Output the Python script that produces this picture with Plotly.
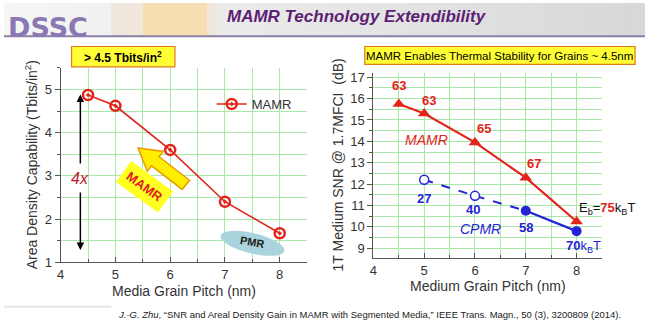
import math
import plotly.graph_objects as go

W, H = 645, 335

# ---------------- data ----------------
left_pitch = [4.5, 5, 6, 7, 8]
left_density = [4.87, 4.62, 3.60, 2.40, 1.67]

mamr_pitch = [4.5, 5, 6, 7, 8]
mamr_snr = [15.75, 15.30, 13.95, 12.30, 10.25]
mamr_eb = ["63", "63", "65", "67", "75"]

cpmr_dash_pitch = [5, 6, 7]
cpmr_dash_snr = [12.20, 11.45, 10.75]
cpmr_solid_pitch = [7, 8]
cpmr_solid_snr = [10.75, 9.80]
cpmr_eb = ["27", "40", "58", "70"]
cpmr_pitch_all = [5, 6, 7, 8]
cpmr_snr_all = [12.20, 11.45, 10.75, 9.80]

# ---------------- styles ----------------
RED = "#e3241b"
BLUE = "#2424d6"
GRID = "#a8e8a8"
AX = "#555555"
TXT = "#333333"
FONT = "Liberation Sans, Arial, sans-serif"


def PX(x):
    return x / W


def PY(y):
    return 1 - y / H


fig = go.Figure()

# left chart
fig.add_trace(go.Scatter(
    x=left_pitch, y=left_density, mode="lines+markers", name="MAMR",
    line=dict(color=RED, width=1.6),
    marker=dict(symbol="circle-open-dot", size=10, color=RED, line=dict(width=2.5, color=RED)),
    xaxis="x", yaxis="y", showlegend=True))

# right chart
fig.add_trace(go.Scatter(
    x=mamr_pitch, y=mamr_snr, mode="lines+markers", showlegend=False,
    line=dict(color=RED, width=2.2),
    marker=dict(symbol="triangle-up", size=11, color=RED),
    xaxis="x2", yaxis="y2"))
fig.add_trace(go.Scatter(
    x=cpmr_dash_pitch, y=cpmr_dash_snr, mode="lines", showlegend=False,
    line=dict(color=BLUE, width=2, dash="dash"),
    xaxis="x2", yaxis="y2"))
fig.add_trace(go.Scatter(
    x=cpmr_solid_pitch, y=cpmr_solid_snr, mode="lines", showlegend=False,
    line=dict(color=BLUE, width=2.2),
    xaxis="x2", yaxis="y2"))
fig.add_trace(go.Scatter(
    x=cpmr_dash_pitch[:2], y=cpmr_dash_snr[:2], mode="markers", showlegend=False,
    marker=dict(symbol="circle", size=9, color="white", line=dict(width=1.5, color=BLUE)),
    xaxis="x2", yaxis="y2"))
fig.add_trace(go.Scatter(
    x=cpmr_solid_pitch, y=cpmr_solid_snr, mode="markers", showlegend=False,
    marker=dict(symbol="circle", size=10, color=BLUE),
    xaxis="x2", yaxis="y2"))

shapes = []
annotations = []

# ---------------- header ----------------
n = 60
for i in range(n):
    x0 = W * i / n
    x1 = W * (i + 1) / n + 0.5
    t = i / (n - 1)
    v = int(246 - 30 * t)
    col = f"rgb({v},{v},{v})"
    if 105 < x0 < 215:
        col = "rgb(246,222,178)" if 135 < x0 < 200 else "rgb(240,232,220)"
    shapes.append(dict(type="rect", xref="paper", yref="paper", x0=PX(x0), x1=PX(x1),
                       y0=PY(34), y1=1, fillcolor=col, line=dict(width=0), layer="below"))
shapes.append(dict(type="line", xref="paper", yref="paper", x0=0, x1=1, y0=PY(34.5), y1=PY(34.5),
                   line=dict(color="#8c7fa4", width=2)))
annotations.append(dict(xref="paper", yref="paper", x=PX(2), y=PY(25), xanchor="left", yanchor="middle",
                        text="<b>DSSC</b>", showarrow=False,
                        font=dict(family="DejaVu Sans, sans-serif", size=27, color="#8a78b4")))
annotations.append(dict(xref="paper", yref="paper", x=PX(355), y=PY(14), xanchor="center", yanchor="middle",
                        text="<b><i>MAMR Technology Extendibility</i></b>", showarrow=False,
                        font=dict(family=FONT, size=17, color="#5c1f74")))

# ---------------- left boxes ----------------
shapes.append(dict(type="rect", xref="paper", yref="paper", x0=PX(68), x1=PX(172), y0=PY(66), y1=PY(45),
                   fillcolor="#ffff33", line=dict(color="#e07a1a", width=1.2)))
annotations.append(dict(xref="paper", yref="paper", x=PX(120), y=PY(55.5), xanchor="center", yanchor="middle",
                        text="<b>> 4.5 Tbits/in<sup>2</sup></b>", showarrow=False,
                        font=dict(family=FONT, size=12, color="black")))

# right box
shapes.append(dict(type="rect", xref="paper", yref="paper", x0=PX(363), x1=PX(635), y0=PY(63.5), y1=PY(45),
                   fillcolor="#ffff33", line=dict(color="#e07a1a", width=1.2)))
annotations.append(dict(xref="paper", yref="paper", x=PX(499), y=PY(54.5), xanchor="center", yanchor="middle",
                        text="MAMR Enables Thermal Stability for Grains ~ 4.5nm", showarrow=False,
                        font=dict(family=FONT, size=11.5, color="black")))

# ---------------- yellow arrow (left) ----------------
T = (135, 150)
E = (183, 188)
dx, dy = T[0] - E[0], T[1] - E[1]
L = math.hypot(dx, dy)
ux, uy = dx / L, dy / L
nx, ny = -uy, ux
B = (T[0] - ux * 22, T[1] - uy * 22)
pts = [T,
       (B[0] + nx * 13, B[1] + ny * 13),
       (B[0] + nx * 6, B[1] + ny * 6),
       (E[0] + nx * 6, E[1] + ny * 6),
       (E[0] - nx * 6, E[1] - ny * 6),
       (B[0] - nx * 6, B[1] - ny * 6),
       (B[0] - nx * 13, B[1] - ny * 13)]
path = "M " + " L ".join(f"{PX(p[0]):.5f},{PY(p[1]):.5f}" for p in pts) + " Z"
shapes.append(dict(type="path", xref="paper", yref="paper", path=path,
                   fillcolor="#ffee00", line=dict(color="#e89a00", width=1.5)))

annotations.append(dict(xref="paper", yref="paper", x=PX(141), y=PY(190), xanchor="center", yanchor="middle",
                        text="<b>MAMR</b>", showarrow=False, textangle=36, bgcolor="#ffff22",
                        borderpad=5, font=dict(family=FONT, size=13, color="#e02020")))

# PMR ellipse
cx, cy, a, b, ang = 250, 248.5, 33, 10.5, math.radians(14)
ep = []
for k in range(48):
    t = 2 * math.pi * k / 48
    ex, ey = a * math.cos(t), b * math.sin(t)
    ep.append((cx + ex * math.cos(ang) - ey * math.sin(ang), cy + ex * math.sin(ang) + ey * math.cos(ang)))
epath = "M " + " L ".join(f"{PX(p[0]):.5f},{PY(p[1]):.5f}" for p in ep) + " Z"
shapes.append(dict(type="path", xref="paper", yref="paper", path=epath,
                   fillcolor="#a9d4dd", line=dict(width=0)))
annotations.append(dict(xref="paper", yref="paper", x=PX(250), y=PY(247), xanchor="center", yanchor="middle",
                        text="<b>PMR</b>", showarrow=False, textangle=10,
                        font=dict(family=FONT, size=11, color="#222222")))

# 4x double arrow
annotations.append(dict(xref="x", yref="y", axref="x", ayref="y", x=4.36, y=4.88, ax=4.36, ay=3.25,
                        text="", showarrow=True, arrowhead=2, arrowsize=1, arrowwidth=1.5, arrowcolor="black"))
annotations.append(dict(xref="x", yref="y", axref="x", ayref="y", x=4.36, y=1.28, ax=4.36, ay=2.65,
                        text="", showarrow=True, arrowhead=2, arrowsize=1, arrowwidth=1.5, arrowcolor="black"))
annotations.append(dict(xref="x", yref="y", x=4.36, y=2.93, text="<i>4x</i>", showarrow=False,
                        font=dict(family=FONT, size=16, color="#c0202a")))

# axis titles
annotations.append(dict(xref="paper", yref="paper", x=PX(27), y=PY(167), xanchor="center", yanchor="middle",
                        text="Area Density Capability (Tbits/in<sup>2</sup>)", textangle=-90, showarrow=False,
                        font=dict(family=FONT, size=14, color=TXT)))
annotations.append(dict(xref="paper", yref="paper", x=PX(181), y=PY(298), xanchor="center", yanchor="middle",
                        text="Media Grain Pitch (nm)", showarrow=False,
                        font=dict(family=FONT, size=14, color=TXT)))
annotations.append(dict(xref="paper", yref="paper", x=PX(336), y=PY(167), xanchor="center", yanchor="middle",
                        text="1T Medium SNR @ 1.7MFCI  (dB)", textangle=-90, showarrow=False,
                        font=dict(family=FONT, size=14, color=TXT)))
annotations.append(dict(xref="paper", yref="paper", x=PX(487), y=PY(293), xanchor="center", yanchor="middle",
                        text="Medium Grain Pitch (nm)", showarrow=False,
                        font=dict(family=FONT, size=14, color=TXT)))

# right chart labels
mamr_shift = [(0, 18), (5, 13), (9, 14), (8, 14)]
for i, lab in enumerate(mamr_eb[:4]):
    annotations.append(dict(xref="x2", yref="y2", x=mamr_pitch[i], y=mamr_snr[i], text=f"<b>{lab}</b>",
                            showarrow=False, xshift=mamr_shift[i][0], yshift=mamr_shift[i][1],
                            font=dict(family=FONT, size=13, color=RED)))
annotations.append(dict(xref="x2", yref="y2", x=mamr_pitch[4], y=mamr_snr[4],
                        text=f"E<sub>b</sub>=<b><span style='color:{RED}'>{mamr_eb[4]}</span></b>k<sub>B</sub>T",
                        showarrow=False, xshift=30, yshift=13,
                        font=dict(family=FONT, size=13, color="#111111")))
cpmr_shift = [(0, -19), (-2, -14), (0, -17)]
for i, lab in enumerate(cpmr_eb[:3]):
    annotations.append(dict(xref="x2", yref="y2", x=cpmr_pitch_all[i], y=cpmr_snr_all[i], text=f"<b>{lab}</b>",
                            showarrow=False, xshift=cpmr_shift[i][0], yshift=cpmr_shift[i][1],
                            font=dict(family=FONT, size=13, color=BLUE)))
annotations.append(dict(xref="x2", yref="y2", x=cpmr_pitch_all[3], y=cpmr_snr_all[3],
                        text=f"<b>{cpmr_eb[3]}</b>k<sub>B</sub>T", showarrow=False, xshift=7, yshift=-15,
                        font=dict(family=FONT, size=13, color=BLUE)))
annotations.append(dict(xref="x2", yref="y2", x=6.1, y=9.9, text="<i>CPMR</i>", showarrow=False,
                        font=dict(family=FONT, size=14, color=BLUE)))
annotations.append(dict(xref="x2", yref="y2", x=5.04, y=14.06, text="<i>MAMR</i>", showarrow=False,
                        font=dict(family=FONT, size=14, color=RED)))

# footer
annotations.append(dict(xref="paper", yref="paper", x=PX(113), y=PY(322), xanchor="left", yanchor="middle",
                        text="<i>J.-G. Zhu</i>, “SNR and Areal Density Gain in MAMR with Segmented Media,” "
                             "IEEE Trans. Magn., 50 (3), 3200809 (2014).",
                        showarrow=False, font=dict(family=FONT, size=9.5, color="#222222")))
shapes.append(dict(type="line", xref="paper", yref="paper", x0=0, x1=PX(108), y0=PY(314), y1=PY(314),
                   line=dict(color="#e4e4e4", width=2)))


def axis(domain, rng, dtick, anchor, ticks="outside", minor=0.5):
    return dict(domain=domain, range=rng, dtick=dtick, tick0=0, anchor=anchor,
                showgrid=True, gridcolor=GRID, gridwidth=1, zeroline=False,
                showline=True, linecolor=AX, linewidth=1.2, mirror=False,
                ticks=ticks, ticklen=5, tickcolor=AX, tickwidth=1,
                tickfont=dict(family=FONT, size=13, color=TXT),
                minor=dict(dtick=minor, showgrid=True, gridcolor=GRID, gridwidth=1,
                           ticks=ticks, ticklen=3, tickcolor=AX),
                fixedrange=True)


fig.update_layout(
    width=W, height=H, margin=dict(l=0, r=0, t=0, b=0),
    paper_bgcolor="white", plot_bgcolor="white",
    xaxis=axis([57 / W, 305 / W], [4, 8.5], 1, "y", ticks="inside"),
    yaxis=axis([1 - 268 / H, 1 - 67 / H], [1, 5.5], 1, "x"),
    xaxis2=axis([371.7 / W, 601.7 / W], [4, 8.5], 1, "y2", ticks="inside"),
    yaxis2=axis([1 - 263.5 / H, 1 - 72.3 / H], [8.55, 17.2], 1, "x2"),
    legend=dict(x=PX(209), y=PY(89), xanchor="left", yanchor="top", bgcolor="rgba(0,0,0,0)",
                font=dict(family=FONT, size=13, color=TXT), itemwidth=30, tracegroupgap=0),
    shapes=shapes, annotations=annotations,
)

fig.write_html("out.html")
